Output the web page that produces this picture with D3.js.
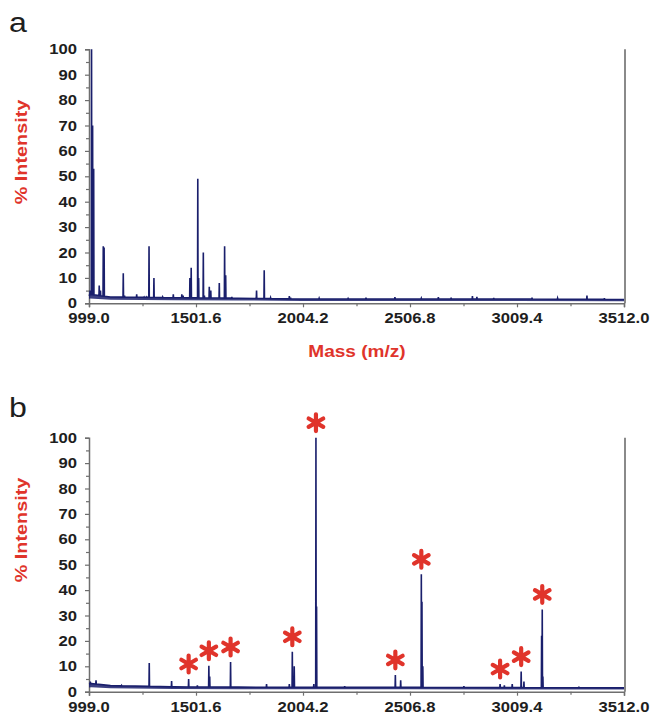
<!DOCTYPE html>
<html><head><meta charset="utf-8">
<script src="https://cdn.jsdelivr.net/npm/d3@7"></script>
<style>
body{margin:0;background:#fff;}
svg{display:block;font-family:"Liberation Sans",Arial,sans-serif;}
</style></head><body><svg id="c" width="652" height="719"></svg>
<script>
// ---------------- data ----------------
const massDomain = [999.0, 3512.0];
const xTickValues = [999.0, 1501.6, 2004.2, 2506.8, 3009.4, 3512.0];
const xTickLabels = ["999.0", "1501.6", "2004.2", "2506.8", "3009.4", "3512.0"];
const xMinorTicks = [1250.3, 1752.9, 2255.5, 2758.1, 3260.7];
const yTickValues = [0, 10, 20, 30, 40, 50, 60, 70, 80, 90, 100];
const yMinorTicks = [5, 15, 25, 35, 45, 55, 65, 75, 85, 95];

// panel a: peak masses and % intensities
const peakMassA = [1004, 1011, 1016, 1021, 1047, 1053, 1066, 1070, 1160, 1166, 1223, 1258, 1270, 1281, 1304,
  1345, 1395, 1435, 1441, 1473, 1479, 1510, 1514, 1536, 1541, 1564, 1571, 1611, 1636, 1641, 1670,
  1786, 1822, 1852, 1940, 1946, 2080, 2216, 2300, 2436, 2560, 2640, 2700, 2800, 2821, 2900, 3080, 3200, 3338, 3420];
const peakIntA = [5, 100, 70, 53, 7, 5, 22.5, 22, 11.8, 3, 3.5, 2.5, 2.5, 22.5, 10,
  2.5, 3.5, 3.5, 3, 10, 14, 49, 10, 20, 3, 6.5, 5, 8, 22.5, 11, 2.5,
  5, 13, 2.2, 2.8, 2.2, 2, 1.9, 2.2, 2.4, 2, 2.4, 2.2, 2.8, 2.5, 2.1, 2.2, 2, 3, 2];
// panel a baseline level
const baseMassA = [999, 1003, 1100, 1400, 1700, 2000, 2500, 3000, 3512];
const baseIntA = [3, 3.5, 2.5, 2.2, 2, 1.7, 1.7, 1.7, 1.5];

// panel b
const peakMassB = [1005, 1032, 1152, 1282, 1387, 1467, 1508, 1562, 1566, 1664, 1833, 1940, 1954, 1963,
  2055, 2065, 2068, 2200, 2438, 2463, 2560, 2563, 2567, 2760, 2930, 2950, 2987, 3029, 3042, 3125, 3128, 3131, 3300];
const peakIntB = [4, 4.5, 2.5, 11.3, 4.2, 5, 2.5, 10.2, 6, 11.7, 3, 3, 15.7, 10,
  3, 100, 33.5, 2.2, 6.6, 4.5, 46.2, 35.4, 10, 2.2, 3, 2.5, 3, 7.9, 4, 22, 32.4, 6, 2];
const baseMassB = [999, 1010, 1100, 1400, 1700, 2000, 2500, 3000, 3512];
const baseIntB = [3, 3.2, 2.4, 1.9, 1.8, 1.7, 1.7, 1.6, 1.5];
// peaks marked with red asterisks in panel b
const starMassB = [1467, 1562, 1664, 1954, 2065, 2438, 2560, 2930, 3029, 3128];

// ---------------- drawing ----------------
const svg = d3.select("#c");
const SX = 1.19;              // horizontal stretch of the original figure's text
const navy = "#1a1f6c", red = "#e0342b", axisGray = "#6e6e6e";
const x = d3.scaleLinear().domain(massDomain).range([89, 624]);

const panels = [
  {letter: "a", top: 49.3, bottom: 303.3, pm: peakMassA, pi: peakIntA, bm: baseMassA, bi: baseIntA,
   stars: [], xTitle: true, yTitleY: 152, letterY: 32},
  {letter: "b", top: 437.7, bottom: 691.7, pm: peakMassB, pi: peakIntB, bm: baseMassB, bi: baseIntB,
   stars: starMassB, xTitle: false, yTitleY: 530, letterY: 417}
];

panels.forEach(p => {
  const y = d3.scaleLinear().domain([0, 100]).range([p.bottom, p.top]);
  const g = svg.append("g");
  const baseAt = d3.scaleLinear().domain(p.bm).range(p.bi).clamp(true);

  // right frame line
  g.append("line").attr("x1", x(massDomain[1]) + 1).attr("x2", x(massDomain[1]) + 1)
    .attr("y1", y(100)).attr("y2", y(0))
    .attr("stroke", "#8a8a8a").attr("stroke-width", 2);

  // y axis
  g.append("g").attr("transform", `translate(${x(massDomain[0])},0)`)
    .call(d3.axisLeft(y).tickValues(yTickValues).tickSize(4).tickFormat(""));
  g.append("g").attr("transform", `translate(${x(massDomain[0])},0)`)
    .call(d3.axisLeft(y).tickValues(yMinorTicks).tickSize(3).tickFormat(""))
    .call(s => s.select(".domain").remove());
  // x axis
  g.append("g").attr("transform", `translate(0,${y(0)})`)
    .call(d3.axisBottom(x).tickValues(xTickValues).tickSize(4).tickFormat(""));
  g.append("g").attr("transform", `translate(0,${y(0)})`)
    .call(d3.axisBottom(x).tickValues(xMinorTicks).tickSize(3).tickFormat(""))
    .call(s => s.select(".domain").remove());
  g.selectAll(".domain").attr("stroke", axisGray).attr("stroke-width", 1.5);
  g.selectAll(".tick line").attr("stroke", axisGray).attr("stroke-width", 1.2);

  // tick labels
  g.selectAll(".ylab").data(yTickValues).join("text")
    .attr("transform", d => `translate(77,${y(d) + 5}) scale(${SX},1)`)
    .attr("text-anchor", "end").attr("font-size", 14).attr("font-weight", "bold")
    .attr("fill", "#1e1e1e").text(d => d);
  g.selectAll(".xlab").data(xTickValues).join("text")
    .attr("transform", (d) => `translate(${x(d)},${y(0) + 20}) scale(${SX},1)`)
    .attr("text-anchor", "middle").attr("font-size", 14).attr("font-weight", "bold")
    .attr("fill", "#1e1e1e").text((d, i) => xTickLabels[i]);

  // spectrum
  const pts = [];
  p.bm.forEach((m, i) => pts.push([m, p.bi[i]]));
  p.pm.forEach((m, i) => {
    pts.push([m - 1.2, baseAt(m - 1.2)]);
    pts.push([m, p.pi[i]]);
    pts.push([m + 1.2, baseAt(m + 1.2)]);
  });
  pts.sort((a, b) => a[0] - b[0]);
  const line = d3.line().x(d => x(d[0])).y(d => y(d[1]));
  // baseline band
  const area = d3.area().x(d => x(d[0])).y0(d => y(d[1] * 0.55)).y1(d => y(d[1]));
  g.append("path").datum(p.bm.map((m, i) => [m, p.bi[i]])).attr("d", area)
    .attr("fill", navy).attr("opacity", 0.85);
  g.append("path").datum(pts).attr("d", line)
    .attr("fill", "none").attr("stroke", navy).attr("stroke-width", 1.6)
    .attr("stroke-linejoin", "miter");

  // asterisks
  const star = d3.symbol().type(d3.symbolAsterisk).size(200);
  g.selectAll(".star").data(p.stars).join("path")
    .attr("d", star)
    .attr("transform", m => {
      const i = p.pm.indexOf(m);
      return `translate(${x(m)},${y(p.pi[i]) - 15})`;
    })
    .attr("fill", "none").attr("stroke", red).attr("stroke-width", 4.2).attr("stroke-linecap", "round");

  // y title
  g.append("text")
    .attr("transform", `translate(27,${p.yTitleY}) rotate(-90) scale(${SX * 0.98},1)`)
    .attr("text-anchor", "middle").attr("font-size", 17).attr("font-weight", "bold")
    .attr("fill", red).text("% Intensity");
  // x title
  if (p.xTitle) {
    g.append("text")
      .attr("transform", `translate(357,357) scale(${SX},1)`)
      .attr("text-anchor", "middle").attr("font-size", 16).attr("font-weight", "bold")
      .attr("fill", red).text("Mass (m/z)");
  }
  // panel letter
  g.append("text").attr("transform", `translate(9,${p.letterY}) scale(${SX},1)`)
    .attr("font-size", 27).attr("fill", "#1e1e1e").text(p.letter);
});
</script></body></html>
